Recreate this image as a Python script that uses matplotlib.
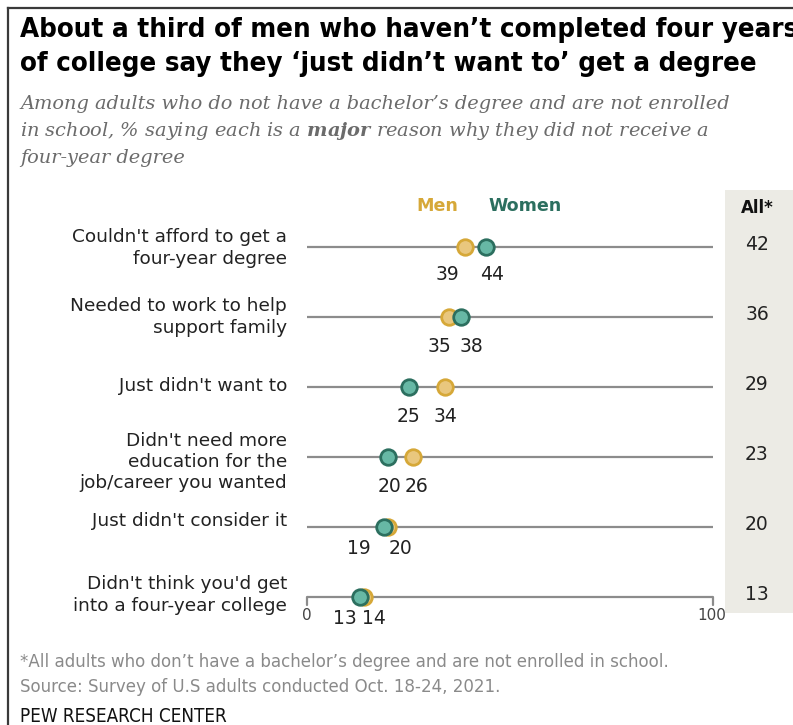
import matplotlib
matplotlib.use("Agg")
import matplotlib.pyplot as plt
import matplotlib.font_manager as fm
from matplotlib.lines import Line2D
from matplotlib.patches import Rectangle

# --- data ---
reasons = [
    "Couldn't afford to get a\nfour-year degree",
    "Needed to work to help\nsupport family",
    "Just didn't want to",
    "Didn't need more\neducation for the\njob/career you wanted",
    "Just didn't consider it",
    "Didn't think you'd get\ninto a four-year college",
]
men = [39, 35, 34, 26, 20, 14]
women = [44, 38, 25, 20, 19, 13]
all_adults = [42, 36, 29, 23, 20, 13]

# label nudges in pixels so neighbouring value labels don't collide
men_label_dx = [-18, -10, 0, 4, 12, 10]
women_label_dx = [6, 10, 0, 1, -25, -15]
value_label_dy = [28, 29, 29, 29, 21, 21]
reason_dy = [-1, 0, 1, -5, 6, 2]

W, H = 793, 725
fig = plt.figure(figsize=(W / 100, H / 100), dpi=100)
fig.patch.set_facecolor("white")
plt.rcParams["mathtext.fontset"] = "custom"
plt.rcParams["mathtext.bf"] = "DejaVu Serif:bold:italic"
plt.rcParams["mathtext.rm"] = "DejaVu Serif:italic"


def find_condensed(bold):
    """Return FontProperties for a narrow/condensed sans face if one is installed."""
    best = None
    for f in fm.fontManager.ttflist:
        name = (f.name + " " + f.fname).lower()
        if "mono" in name or "serif" in name and "sans" not in name:
            continue
        if not ("narrow" in name or "condensed" in name or f.stretch in
                ("condensed", "semi-condensed", "extra-condensed")):
            continue
        if "italic" in f.fname.lower() or "oblique" in f.fname.lower() or f.style != "normal":
            continue
        w = f.weight if isinstance(f.weight, int) else (700 if "bold" in str(f.weight) else 400)
        target = 700 if bold else 400
        score = abs(w - target)
        if best is None or score < best[0]:
            best = (score, f.fname)
    if best is not None:
        return fm.FontProperties(fname=best[1])
    return fm.FontProperties(family=["Roboto", "DejaVu Sans"],
                             weight="bold" if bold else "normal")


COND_BOLD = find_condensed(True)
COND_REG = find_condensed(False)
SANS = ["DejaVu Sans"]
SERIF = ["DejaVu Serif"]

MEN_EDGE = "#D6A838"
MEN_FILL = "#E9C77E"
WOM_EDGE = "#2C6F5F"
WOM_FILL = "#67B8A5"
LINE = "#8C8C8C"

renderer = fig.canvas.get_renderer()


def fit(t, target_px):
    w = t.get_window_extent(renderer).width
    t.set_fontsize(t.get_fontsize() * target_px / w)
    return t.get_fontsize()


def fx(px):
    return px / W


def fy(py):
    return 1 - py / H


# frame along the top and left edges
fig.add_artist(Line2D([fx(8), fx(8)], [fy(8), 0], color="#3a3a3a", lw=1.6))
fig.add_artist(Line2D([fx(8), 1], [fy(8), fy(8)], color="#3a3a3a", lw=1.6))

# title
t1 = fig.text(fx(20), fy(30), "About a third of men who haven\u2019t completed four years",
              fontproperties=COND_BOLD, fontsize=20, va="center", ha="left")
t2 = fig.text(fx(20), fy(64), "of college say they \u2018just didn\u2019t want to\u2019 get a degree",
              fontproperties=COND_BOLD, fontsize=20, va="center", ha="left")
fs = fit(t2, 735)
t1.set_fontsize(fs)

# subtitle
sub_kw = dict(family=SERIF, style="italic", fontsize=13, color="#6b6b6b",
              va="center", ha="left")
s1 = fig.text(fx(20), fy(104), "Among adults who do not have a bachelor\u2019s degree and are not enrolled", **sub_kw)
s2 = fig.text(fx(20), fy(131), "in school, % saying each is a $\\mathbf{major}$ reason why they did not receive a", **sub_kw)
s3 = fig.text(fx(20), fy(158), "four-year degree", **sub_kw)
fs = fit(s1, 710)
s2.set_fontsize(fs)
s3.set_fontsize(fs)

# shaded "All" column
fig.add_artist(Rectangle((fx(725), fy(613)), fx(793 - 725), (613 - 190) / H,
                         facecolor="#ECEBE5", edgecolor="none", zorder=-5))

# chart axes: 0 -> x=307px, 100 -> x=713px; rows 70px apart starting at y=247px
top_px, bot_px = 212, 632
ax = fig.add_axes([fx(307), fy(bot_px), fx(713 - 307), (bot_px - top_px) / H])
ax.set_xlim(0, 100)
n = len(reasons)
ax.set_ylim(n - 0.5, -0.5)
ax.axis("off")
ax.patch.set_alpha(0)

rows = list(range(n))
for i in rows:
    ax.plot([0, 100], [i, i], color=LINE, lw=1.6, solid_capstyle="butt", zorder=1)

# end ticks on the last row
last = rows[-1]
for xv in (0, 100):
    ax.annotate("", xy=(xv, last), xytext=(0, -8), textcoords="offset pixels",
                arrowprops=dict(arrowstyle="-", color=LINE, lw=1.6,
                                shrinkA=0, shrinkB=0))
z0 = ax.annotate("0", xy=(0, last), xytext=(0, -18), textcoords="offset pixels",
                 ha="center", va="center", family=SANS, fontsize=9.5, color="#444444")
z1 = ax.annotate("100", xy=(100, last), xytext=(-1, -19), textcoords="offset pixels",
                 ha="center", va="center", family=SANS, fontsize=9.5, color="#444444")
fs = fit(z1, 29)
z0.set_fontsize(fs)

# value and category font sizes
val_fs = 13.5
probe = fig.text(0, 0, reasons[0].split("\n")[0], family=SANS, fontsize=12)
cat_fs = fit(probe, 214)
probe.remove()

for i in rows:
    ax.plot([men[i]], [i], "o", ms=11.2, mfc=MEN_FILL, mec=MEN_EDGE, mew=2.0, zorder=3)
    ax.plot([women[i]], [i], "o", ms=11.2, mfc=WOM_FILL, mec=WOM_EDGE, mew=2.0, zorder=4)

    ax.annotate(str(men[i]), xy=(men[i], i), xytext=(men_label_dx[i], -value_label_dy[i]),
                textcoords="offset pixels", ha="center", va="center",
                family=SANS, fontsize=val_fs, color="#222222")
    ax.annotate(str(women[i]), xy=(women[i], i), xytext=(women_label_dx[i], -value_label_dy[i]),
                textcoords="offset pixels", ha="center", va="center",
                family=SANS, fontsize=val_fs, color="#222222")

    # category label
    ax.annotate(reasons[i], xy=(0, i), xycoords=("axes fraction", "data"),
                xytext=(-20, reason_dy[i]), textcoords="offset pixels",
                ha="right", va="center", family=SANS, fontsize=cat_fs,
                color="#222222", linespacing=1.22)

    # overall value in the shaded column
    ax.annotate(str(all_adults[i]), xy=(1, i), xycoords=("axes fraction", "data"),
                xytext=(44, 2), textcoords="offset pixels",
                ha="center", va="center", family=SANS, fontsize=val_fs,
                color="#222222")

# legend labels & column header
m_t = ax.annotate("Men", xy=(0, 0), xycoords=("axes fraction", "data"),
                  xytext=(437 - 307, 41), textcoords="offset pixels",
                  ha="center", va="center", family=SANS, weight="bold",
                  fontsize=11.5, color=MEN_EDGE)
leg_fs = fit(m_t, 42)
ax.annotate("Women", xy=(0, 0), xycoords=("axes fraction", "data"),
            xytext=(525 - 307, 41), textcoords="offset pixels",
            ha="center", va="center", family=SANS, weight="bold",
            fontsize=leg_fs, color=WOM_EDGE)
a_t = ax.annotate("All*", xy=(1, 0), xycoords=("axes fraction", "data"),
                  xytext=(757 - 713, 39), textcoords="offset pixels",
                  ha="center", va="center", family=SANS, weight="bold",
                  fontsize=leg_fs, color="#111111")
fit(a_t, 33)

# footer
foot_kw = dict(fontproperties=COND_REG, fontsize=12, color="#8a8a8a", va="center", ha="left")
f1 = fig.text(fx(20), fy(662), "*All adults who don\u2019t have a bachelor\u2019s degree and are not enrolled in school.", **foot_kw)
f2 = fig.text(fx(20), fy(687), "Source: Survey of U.S adults conducted Oct. 18-24, 2021.", **foot_kw)
fs = fit(f1, 648)
f2.set_fontsize(fs)
p = fig.text(fx(20), fy(716), "PEW RESEARCH CENTER", fontproperties=COND_REG, fontsize=12,
             color="#111111", va="center", ha="left")
fit(p, 206)

fig.savefig("out.png", dpi=100)
